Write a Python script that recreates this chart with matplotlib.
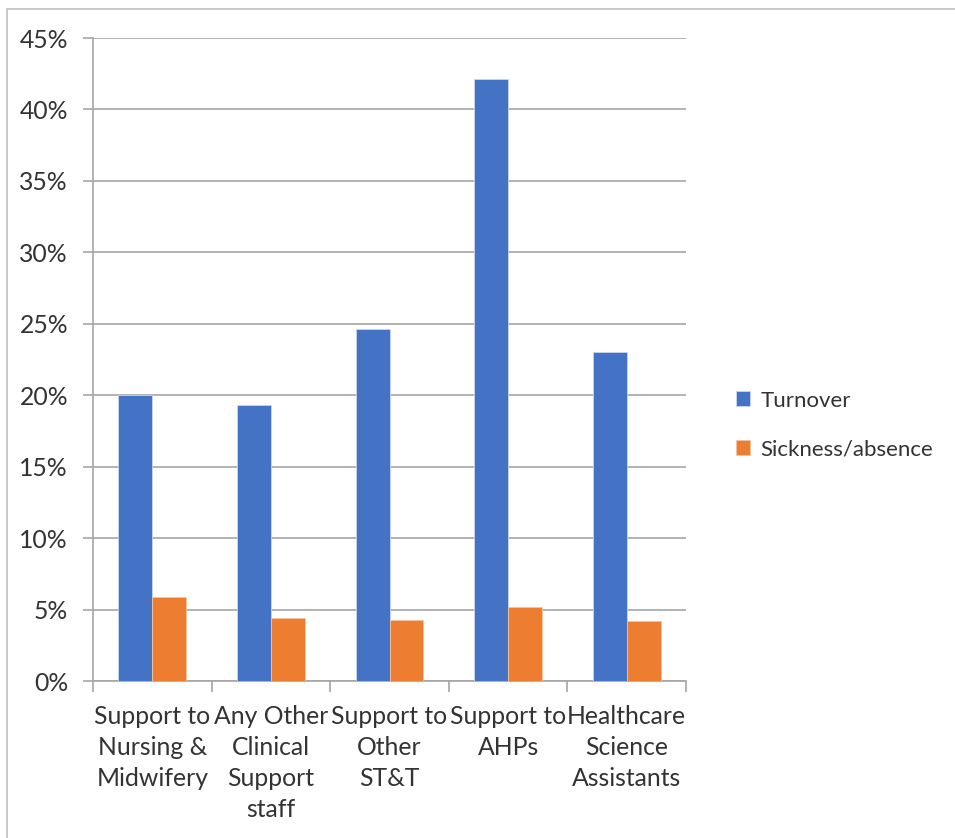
import matplotlib.pyplot as plt
import numpy as np
from matplotlib.patches import Rectangle
from matplotlib.ticker import FixedLocator, PercentFormatter

# staff groups and their rates (%)
groups = ["Support to\nNursing &\nMidwifery", "Any Other\nClinical\nSupport\nstaff",
          "Support to\nOther\nST&T", "Support to\nAHPs", "Healthcare\nScience\nAssistants"]
turnover = [20.0, 19.3, 24.6, 42.1, 23.0]
sickness = [5.9, 4.4, 4.3, 5.2, 4.2]

plt.rcParams['font.family'] = ['Lato', 'DejaVu Sans']
grey = "#a6a6a6"
txt = "#333333"
fs = 17.8

fig = plt.figure(figsize=(9.55, 8.38), dpi=100)
ax = fig.add_axes([93 / 955, 1 - 681 / 838, (686 - 93) / 955, (681 - 38) / 838])

x = np.arange(len(groups))
w = 0.285
ax.bar(x - w / 2, turnover, w, color="#4472C4", edgecolor="#c9d6ee", linewidth=0.6, label="Turnover", zorder=3)
ax.bar(x + w / 2, sickness, w, color="#ED7D31", edgecolor="#f6c3a0", linewidth=0.6, label="Sickness/absence", zorder=3)

ax.set_xlim(-0.5, len(groups) - 0.5)
ax.set_ylim(0, 45)
ax.set_yticks(np.arange(0, 46, 5))
ax.yaxis.set_major_formatter(PercentFormatter(decimals=0))
ax.grid(axis="y", color=grey, linewidth=1.2, zorder=0)

# category names sit between the boundary ticks
ax.xaxis.set_major_locator(FixedLocator(np.arange(-0.5, len(groups), 1.0)))
ax.xaxis.set_major_formatter(plt.NullFormatter())
ax.xaxis.set_minor_locator(FixedLocator(x))
ax.set_xticklabels(groups, minor=True, fontsize=fs, color=txt, linespacing=1.42, va="top")
ax.tick_params(axis="x", which="minor", length=0, pad=17)
ax.tick_params(axis="x", which="major", length=8, color=grey, width=1.2)
ax.tick_params(axis="y", length=7, color=grey, width=1.2, labelsize=fs, labelcolor=txt, pad=11)

for s in ["top", "right"]:
    ax.spines[s].set_visible(False)
for s in ["left", "bottom"]:
    ax.spines[s].set_color(grey)
    ax.spines[s].set_linewidth(1.2)

leg = fig.legend(loc="center left", bbox_to_anchor=(716 / 955, 1 - 425 / 838), frameon=False,
                 fontsize=16, handlelength=0.65, handleheight=0.65, handletextpad=0.45,
                 labelspacing=1.3, labelcolor=txt)

# outer chart border
fig.patches.append(Rectangle((7 / 955, -0.1), 1.1, 1 - 9 / 838 + 0.1, transform=fig.transFigure,
                             fill=False, edgecolor="#bfbfbf", linewidth=1.2))

fig.savefig("out.png", dpi=100)
